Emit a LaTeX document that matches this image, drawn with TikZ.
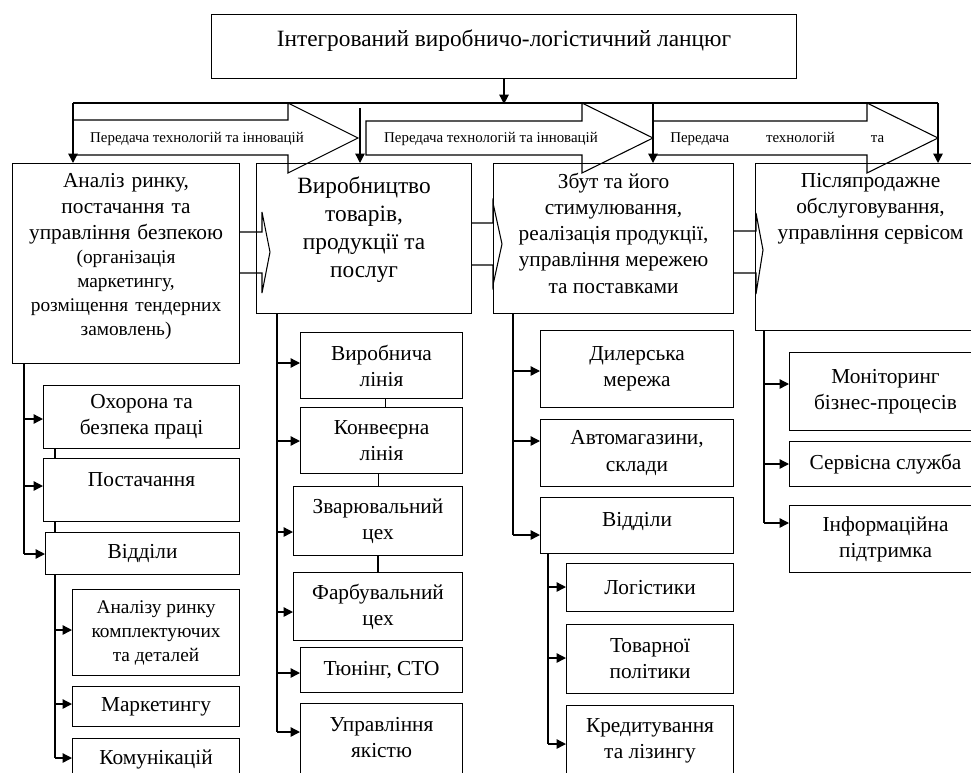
\documentclass[tikz,border=0pt]{standalone}
\usepackage{fontspec}
\setmainfont{Liberation Serif}
\usetikzlibrary{arrows.meta}

\newcommand{\sztitle}{\fontsize{17.5}{21}\selectfont}
\newcommand{\szbig}{\fontsize{17.5}{20.8}\selectfont}
\newcommand{\szmain}{\fontsize{16}{19.6}\selectfont}
\newcommand{\szsmall}{\fontsize{14.5}{18}\selectfont}
\newcommand{\szband}{\fontsize{11.2}{13}\selectfont}

\tikzset{
  blk/.style={draw, line width=0.8pt, fill=white, anchor=north west, inner sep=0pt, align=center, font=\szmain},
  txt/.style={anchor=north, inner sep=0pt, align=center, font=\szmain},
  ln/.style={line width=1pt},
  arr/.style={line width=1pt, -{Triangle[length=7pt,width=7pt]}},
  band/.style={line width=0.8pt, line join=miter}
}

\begin{document}
\begin{tikzpicture}[x=0.75pt,y=0.75pt,yscale=-1,xscale=1]
  \useasboundingbox (0,0) rectangle (971,772);
  \clip (0,0) rectangle (971,772);

  % Title box
  \node[blk, minimum width=438.75pt, minimum height=48pt] (top) at (211,14) {};
  \node[txt, font=\sztitle] (topt) at ([yshift=12pt]top.north) {Інтегрований виробничо-логістичний ланцюг};

  % Main stages
  \node[blk, minimum width=170.25pt, minimum height=150pt] (anl) at (12,163) {};
  \node[blk, minimum width=161.25pt, minimum height=112.5pt] (vyr) at (256,163) {};
  \node[blk, minimum width=180pt, minimum height=112.5pt] (zbut) at (493,163) {};
  \node[blk, minimum width=172.5pt, minimum height=125.25pt] (serv) at (755,163) {};

  \node[txt, text width=168pt] (anlt) at ([yshift=7.5pt]anl.north) {Аналіз ринку,\\ постачання та\\ управління безпекою\par
    {\szsmall (організація\\ маркетингу,\\ розміщення тендерних\\ замовлень)\par}};
  \node[txt, font=\szbig] (vyrt) at ([yshift=10.5pt]vyr.north) {Виробництво\\ товарів,\\ продукції та\\ послуг};
  \node[txt] (zbutt) at ([yshift=7.5pt]zbut.north) {Збут та його\\ стимулювання,\\ реалізація продукції,\\ управління мережею\\ та поставками};
  \node[txt] (servt) at ([yshift=7.5pt]serv.north) {Післяпродажне\\ обслуговування,\\ управління сервісом};

  % Distribution line and drops
  \coordinate (hb) at ([yshift=18.75pt]top.south);
  \draw[arr] (top.south) -- (hb);
  \coordinate (d1) at (73,103);
  \coordinate (d2) at (360,108);
  \coordinate (d3) at (653,103);
  \coordinate (d4) at (938,103);
  \draw[ln] (d1) -- (d4);
  \draw[arr] (d1) -- (d1 |- anl.north);
  \draw[arr] (d2) -- (d2 |- vyr.north);
  \draw[arr] (d3) -- (d3 |- zbut.north);
  \draw[arr] (d4) -- (d4 |- serv.north);

  % Transfer arrows
  \draw[band] (73,120) -- (288,120) -- (288,103) -- (358,138) -- (288,173) -- (288,155) -- (73,155);
  \draw[band] (366,121) -- (582,121) -- (582,103) -- (653,138) -- (582,173) -- (582,155) -- (366,155) -- cycle;
  \draw[band] (653,121) -- (867,121) -- (867,103) -- (938,138) -- (867,173) -- (867,155) -- (653,155);
  \node[font=\szband, inner sep=0pt] (bt1) at (197,139) {Передача технологій та інновацій};
  \node[font=\szband, inner sep=0pt] (bt2) at (491,139) {Передача технологій та інновацій};
  \node[font=\szband, inner sep=0pt, anchor=west] (bt3) at (670,139) {Передача\hspace{27.5pt}технологій\hspace{27pt}та};

  % Stage to stage
  \draw[band] (239,232) -- (262,232) -- (262,212) -- (270,252) -- (262,293) -- (262,273) -- (239,273);
  \draw[band] (471,223) -- (493,223) -- (493,203) -- (502,244) -- (493,285) -- (493,265) -- (471,265);
  \draw[band] (733,231) -- (756,231) -- (756,213) -- (763,250) -- (756,294) -- (756,273) -- (733,273);

  % Column 1
  \node[blk, minimum width=147pt, minimum height=47.25pt] (ohor) at (43,385) {Охорона та\\ безпека праці};
  \node[blk, minimum width=147pt, minimum height=47.25pt] (post) at (43,458) {};
  \node[txt] (postt) at ([yshift=10.5pt]post.north) {Постачання};
  \node[blk, minimum width=145.5pt, minimum height=31.5pt] (viddl) at (45,532) {Відділи};
  \node[blk, minimum width=125.25pt, minimum height=64.5pt, font=\szsmall] (rynk) at (72,589) {Аналізу ринку\\ комплектуючих\\ та деталей};
  \node[blk, minimum width=125.25pt, minimum height=30pt] (mark) at (72,686) {Маркетингу};
  \node[blk, minimum width=125.25pt, minimum height=45pt] (komu) at (72,738) {};
  \node[txt] (komut) at ([yshift=9pt]komu.north) {Комунікацій};

  \coordinate (tr1) at ([xshift=9pt]anl.south west);
  \draw[ln] (tr1) -- (tr1 |- 0,554);
  \foreach \n/\y in {ohor/419, post/486, viddl/554}
    \draw[arr] (tr1 |- 0,\y) -- (\n.west |- 0,\y);
  \coordinate (st1) at ([xshift=9pt]ohor.south west);
  \draw[ln] (st1) -- (st1 |- post.north);
  \draw[ln] (st1 |- post.south) -- (st1 |- viddl.north);
  \draw[ln] (st1 |- viddl.south) -- (st1 |- 0,758);
  \foreach \n/\y in {rynk/630, mark/704, komu/758}
    \draw[arr] (st1 |- 0,\y) -- (\n.west |- 0,\y);

  % Column 2
  \node[blk, minimum width=121.5pt, minimum height=49.5pt] (lin1) at (300,332) {Виробнича\\ лінія};
  \node[blk, minimum width=121.5pt, minimum height=49.5pt] (lin2) at (300,407) {Конвеєрна\\ лінія};
  \node[blk, minimum width=126.75pt, minimum height=51.75pt] (zvar) at (293,486) {Зварювальний\\ цех};
  \node[blk, minimum width=126.75pt, minimum height=51pt] (farb) at (293,572) {Фарбувальний\\ цех};
  \node[blk, minimum width=121.5pt, minimum height=33.75pt] (tyun) at (300,647) {Тюнінг, СТО};
  \node[blk, minimum width=121.5pt, minimum height=67.5pt] (yak) at (300,703) {};
  \node[txt] (yakt) at ([yshift=10.5pt]yak.north) {Управління\\ якістю};

  \coordinate (tr2) at ([xshift=15.75pt]vyr.south west);
  \draw[ln] (tr2) -- (tr2 |- 0,732);
  \foreach \n/\y in {lin1/363, lin2/441, zvar/532, farb/612, tyun/673, yak/732}
    \draw[arr] (tr2 |- 0,\y) -- (\n.west |- 0,\y);
  \draw[ln] ([xshift=3pt]lin1.south) -- ([xshift=3pt]lin1.south |- lin2.north);
  \draw[ln] ([xshift=-2.25pt]lin2.south) -- ([xshift=-2.25pt]lin2.south |- zvar.north);
  \draw[ln] (zvar.south) -- (farb.north);

  % Column 3
  \node[blk, minimum width=144.75pt, minimum height=57.75pt] (dil) at (540,330) {Дилерська\\ мережа};
  \node[blk, minimum width=144.75pt, minimum height=50.25pt] (avto) at (540,419) {Автомагазини,\\ склади};
  \node[blk, minimum width=144.75pt, minimum height=42pt] (vidz) at (540,497) {};
  \node[txt] (vidzt) at ([yshift=11.25pt]vidz.north) {Відділи};
  \node[blk, minimum width=125.25pt, minimum height=36pt] (logi) at (566,563) {Логістики};
  \node[blk, minimum width=125.25pt, minimum height=51.75pt] (tov) at (566,624) {Товарної\\ політики};
  \node[blk, minimum width=125.25pt, minimum height=67.5pt] (kred) at (566,705) {};
  \node[txt] (kredt) at ([yshift=9.75pt]kred.north) {Кредитування\\ та лізингу};

  \coordinate (tr3) at ([xshift=15pt]zbut.south west);
  \draw[ln] (tr3) -- (tr3 |- 0,535);
  \foreach \n/\y in {dil/371, avto/441, vidz/535}
    \draw[arr] (tr3 |- 0,\y) -- (\n.west |- 0,\y);
  \coordinate (st3) at ([xshift=6pt]vidz.south west);
  \draw[ln] (st3) -- (st3 |- 0,744);
  \foreach \n/\y in {logi/587, tov/658, kred/744}
    \draw[arr] (st3 |- 0,\y) -- (\n.west |- 0,\y);

  % Column 4
  \node[blk, minimum width=144pt, minimum height=58.5pt] (mon) at (789,352) {Моніторинг\\ бізнес-процесів};
  \node[blk, minimum width=144pt, minimum height=33.75pt] (sluz) at (789,441) {Сервісна служба};
  \node[blk, minimum width=144pt, minimum height=50.25pt] (inf) at (789,505) {Інформаційна\\ підтримка};

  \coordinate (tr4) at ([xshift=6.75pt]serv.south west);
  \draw[ln] (tr4) -- (tr4 |- 0,523);
  \foreach \n/\y in {mon/384, sluz/464, inf/523}
    \draw[arr] (tr4 |- 0,\y) -- (\n.west |- 0,\y);

\end{tikzpicture}
\end{document}
